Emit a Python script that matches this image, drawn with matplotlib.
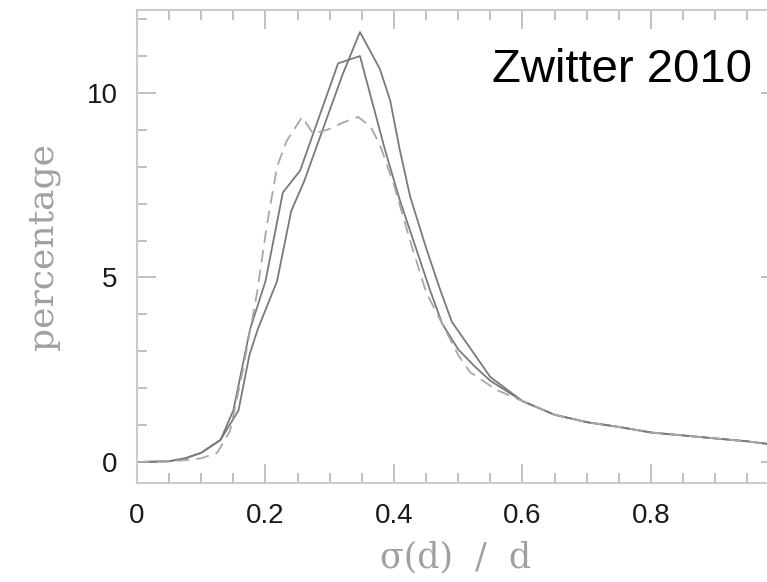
import matplotlib
matplotlib.use("Agg")
import matplotlib.pyplot as plt
from matplotlib.ticker import MultipleLocator

# distance error histograms
# solid curve with the highest peak
x_a = [0.0, 0.05, 0.075, 0.1, 0.13, 0.158, 0.175, 0.188, 0.218, 0.24, 0.26, 0.32, 0.347,
       0.378, 0.394, 0.409, 0.425, 0.45, 0.472, 0.49, 0.55, 0.6, 0.65, 0.7, 0.75, 0.8, 0.85, 0.9, 0.95, 1.0]
y_a = [0.0, 0.02, 0.1, 0.25, 0.6, 1.4, 2.9, 3.6, 4.9, 6.8, 7.6, 10.5, 11.65,
       10.65, 9.8, 8.46, 7.2, 5.8, 4.66, 3.8, 2.3, 1.65, 1.28, 1.08, 0.95, 0.8, 0.72, 0.64, 0.56, 0.45]

# second solid curve
x_b = [0.0, 0.05, 0.075, 0.1, 0.13, 0.15, 0.176, 0.2, 0.227, 0.254, 0.313, 0.347,
       0.386, 0.409, 0.456, 0.475, 0.5, 0.525, 0.55, 0.6, 0.65, 0.7, 0.75, 0.8, 0.85, 0.9, 0.95, 1.0]
y_b = [0.0, 0.02, 0.1, 0.25, 0.6, 1.4, 3.6, 4.9, 7.3, 7.9, 10.8, 11.0,
       8.46, 7.1, 4.66, 3.75, 3.05, 2.6, 2.2, 1.65, 1.28, 1.08, 0.95, 0.8, 0.72, 0.64, 0.56, 0.45]

# dashed curve
x_d = [0.0, 0.05, 0.075, 0.1, 0.125, 0.145, 0.165, 0.187, 0.202, 0.218, 0.233, 0.257, 0.274,
       0.296, 0.321, 0.344, 0.363, 0.378, 0.4, 0.425, 0.45, 0.472, 0.5, 0.518, 0.56, 0.6,
       0.65, 0.7, 0.75, 0.8, 0.85, 0.9, 0.95, 1.0]
y_d = [0.0, 0.02, 0.05, 0.1, 0.25, 0.85, 2.5, 4.6, 6.4, 8.0, 8.7, 9.35, 8.9,
       9.0, 9.2, 9.35, 9.1, 8.6, 7.5, 6.0, 4.6, 3.85, 2.9, 2.44, 1.95, 1.65,
       1.28, 1.08, 0.95, 0.8, 0.72, 0.64, 0.56, 0.45]

x_ticks = [0, 0.2, 0.4, 0.6, 0.8]
x_labels = ["0", "0.2", "0.4", "0.6", "0.8"]
y_ticks = [0, 5, 10]
y_labels = ["0", "5", "10"]

fig = plt.figure(figsize=(7.67, 5.82), dpi=100)
ax = fig.add_axes([0.1786, 0.170, 0.8377, 0.813])

ax.plot(x_a, y_a, color="#7a7a7a", lw=1.3)
ax.plot(x_b, y_b, color="#7a7a7a", lw=1.3)
ax.plot(x_d, y_d, color="#a8a8a8", lw=1.3, dashes=(7, 4))

ax.set_xlim(0, 1)
ax.set_ylim(-0.57, 12.25)

ax.set_xticks(x_ticks)
ax.set_xticklabels(x_labels)
ax.set_yticks(y_ticks)
ax.set_yticklabels(y_labels)
ax.xaxis.set_minor_locator(MultipleLocator(0.05))
ax.yaxis.set_minor_locator(MultipleLocator(1))

ax.tick_params(which="both", direction="in", top=True, right=True, color="#bbbbbb", width=1.3)
ax.tick_params(which="major", length=14, pad=14, labelsize=20, labelcolor="#1a1a1a")
ax.tick_params(which="minor", length=7)
for lab in ax.get_xticklabels() + ax.get_yticklabels():
    lab.set_fontfamily("Liberation Sans")

for sp in ax.spines.values():
    sp.set_color("#cccccc")
    sp.set_linewidth(1.5)

# axis titles in a grey serif face
fig.text(43 / 767, 1 - 246 / 582, "percentage", rotation=90, ha="center", va="center",
         fontsize=26, color="#a0a0a0", family="DejaVu Serif")
fig.text(456 / 767, 1 - 567 / 582, "σ(d)  /  d", ha="center", va="baseline",
         fontsize=25, color="#a0a0a0", family="DejaVu Serif")

fig.text(492 / 767, 1 - 82 / 582, "Zwitter 2010", ha="left", va="baseline",
         fontsize=34, color="black", family="Liberation Sans")

fig.savefig("out.png", dpi=100)
